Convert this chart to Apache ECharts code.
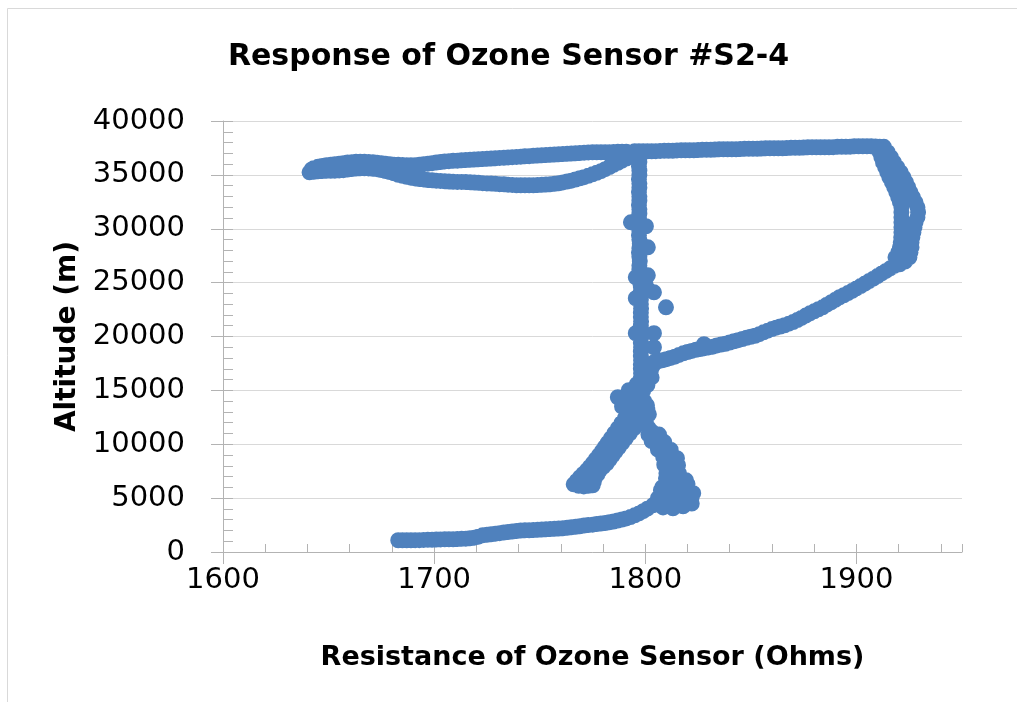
<!DOCTYPE html>
<html>
<head>
<meta charset="utf-8">
<script src="https://cdn.jsdelivr.net/npm/echarts/dist/echarts.min.js"></script>
<style>
  html, body { margin: 0; padding: 0; background: #ffffff; }
  #chart { width: 1017px; height: 702px; }
</style>
</head>
<body>
<div id="chart"></div>
<script>
// ---- Text ----
const titleText = 'Response of Ozone Sensor #S2-4';
const xAxisTitle = 'Resistance of Ozone Sensor (Ohms)';
const yAxisTitle = 'Altitude (m)';

// ---- Axis ranges / ticks ----
const xRange = [1600, 1950];
const xMajorStep = 100;
const xMinorStep = 20;
const yRange = [0, 40000];
const yMajorStep = 5000;
const yMinorStep = 1000;

// ---- Data: [resistance (Ohms), altitude (m)] ----
const groundAscent = [
  [1683,1090],[1685,1090],[1687,1090],[1689,1090],[1691,1095],[1693,1100],[1695,1120],[1697,1130],
  [1699,1130],[1701,1150],[1703,1170],[1705,1180],[1707,1180],[1709,1180],[1711,1200],[1713,1220],
  [1715,1240],[1717,1270],[1719,1330],[1721,1420],[1723,1550],[1725,1600],[1727,1640],[1729,1700],
  [1731,1750],[1733,1800],[1735,1850],[1737,1900],[1739,1940],[1741,1990],[1743,2010],[1745,2010],
  [1747,2040],[1749,2060],[1751,2080],[1753,2110],[1755,2130],[1757,2150],[1759,2180],[1761,2200],
  [1763,2250],[1765,2290],[1767,2340],[1769,2390],[1771,2450],[1773,2500],[1775,2540],[1777,2590],
  [1779,2640],[1781,2690],[1783,2750],[1785,2830],[1787,2920],[1789,3010],[1791,3120],[1793,3250],
  [1795,3400],[1797,3580],[1799,3790],[1801,4020]
];
const lowBlob = [
  [1803.6,4330],[1808.4,4140],[1813.1,4050],[1817.9,4240],[1820.8,4800],[1822.7,5450],
  [1819.0,5360],[1814.0,5080],[1808.8,4890],[1807.4,5730],[1812.0,6000],[1816.9,6100],
  [1819.3,6650],[1815.0,6930],[1809.8,6840],[1812.6,7580],[1815.5,8050],[1811.0,8330],
  [1813.0,8970],[1810.0,9530],[1807.4,10180],[1804.6,10830],[1801.7,11480],
  [1822.0,5100],[1818.0,5800],[1810.0,6300],[1806.0,5000],[1820.0,6300],[1811.0,4500],
  [1816.0,4600],[1813.5,7200],[1812.0,9250],[1808.7,9850],[1806.0,10500],[1803.2,11150],
  [1818.0,4700],[1822.0,4500],[1814.0,5600],[1808.0,6000],
  [1816.0,7300],[1815.0,8000],[1815.0,8700],[1812.0,9500],[1809.0,10200],[1806.5,10900],
  [1810.0,7300],[1809.0,8100],[1808.5,8800],[1806.0,9500],[1803.0,10300],[1801.5,10900]
];
const midAscent = [
  [1800.3,12040],[1801.7,12780],[1800.8,13610],[1797.9,14360],[1794.1,14080],[1790.3,13800],
  [1787.0,14360],[1792.2,15010],[1796.0,15580],[1799.8,16120],[1802.7,16860],[1804.1,17600],
  [1801.0,13200],[1799.5,14000],[1792.0,14600],[1797.8,15850],[1801.2,16500],[1803.5,17250],
  [1792.0,13000],[1796.0,12700],[1789.0,13500],[1795.0,13900],[1799.0,15000],[1801.0,15500],
  [1803.0,16200]
];
const diagonalAscent = [
  [1806,17700],[1808,17790],[1810,17900],[1812,18010],[1814,18130],[1816,18290],[1818,18440],
  [1820,18550],[1822,18660],[1824,18760],[1826,18840],[1828,18920],[1830,18990],[1832,19060],
  [1834,19170],[1836,19250],[1838,19330],[1840,19440],[1842,19550],[1844,19660],[1846,19770],
  [1848,19880],[1850,19970],[1852,20060],[1854,20220],[1856,20390],[1858,20540],[1860,20690],
  [1862,20820],[1864,20930],[1866,21040],[1868,21190],[1870,21340],[1872,21520],[1874,21720],
  [1876,21940],[1878,22150],[1880,22340],[1882,22530],[1884,22710],[1886,22950],[1888,23170],
  [1890,23400],[1892,23640],[1894,23830],[1896,24030],[1898,24240],[1900,24460],[1902,24680],
  [1904,24910],[1906,25140],[1908,25370],[1910,25610],[1912,25850],[1914,26090],[1916,26330],
  [1918,26550],[1920.5,26700],[1923,26950],[1827.8,19280]
];
const rightInner = [
  [1918.5,27350],[1919.8,27810],[1920.6,28280],[1921.0,28740],[1921.2,29200],[1921.3,29670],
  [1921.3,30130],[1921.3,30600],[1921.3,31060],[1921.3,31530],[1921.3,31990],[1920.6,32450],
  [1919.8,32920],[1918.9,33380],[1917.9,33850],[1916.8,34310],[1915.6,34770],[1914.6,35240],
  [1913.6,35700],[1912.6,36160],[1911.8,36630],[1911.0,37100]
];
const rightOuter = [
  [1925.1,27350],[1925.6,27810],[1926.1,28280],[1926.1,28740],[1926.5,29200],[1927.0,29670],
  [1927.5,30130],[1928.0,30600],[1928.9,31060],[1929.2,31530],[1928.9,31990],[1928.0,32450],
  [1926.8,32920],[1925.6,33380],[1924.5,33850],[1923.5,34310],[1922.3,34770],[1921.0,35240],
  [1919.4,35700],[1917.8,36160],[1916.4,36630],[1914.8,37100]
];
const burstTop = [
  [1913,37600],[1911,37620],[1909,37640],[1907,37650],[1905,37650],[1903,37650],[1901,37650],
  [1899,37650],[1897,37620],[1895,37600],[1893,37600],[1891,37600],[1889,37570],[1887,37560],
  [1885,37560],[1883,37560],[1881,37560],[1879,37560],[1877,37560],[1875,37540],[1873,37510],
  [1871,37510],[1869,37510],[1867,37490],[1865,37470],[1863,37470],[1861,37470],[1859,37470],
  [1857,37460],[1855,37440],[1853,37420],[1851,37420],[1849,37420],[1847,37420],[1845,37400],
  [1843,37380],[1841,37370],[1839,37370],[1837,37370],[1835,37370],[1833,37350],[1831,37330],
  [1829,37330],[1827,37330],[1825,37300],[1823,37280],[1821,37280],[1819,37280],[1817,37280],
  [1815,37270],[1813,37240],[1811,37230],[1809,37230],[1807,37220],[1805,37200],[1803,37190],
  [1801,37190],[1799,37190],[1797,37190],[1795,37190]
];
const loopUpper = [
  [1791,37140],[1789,37140],[1787,37140],[1785,37130],[1783,37110],[1781,37090],[1779,37090],
  [1777,37090],[1775,37090],[1773,37080],[1771,37060],[1769,37030],[1767,37000],[1765,36980],
  [1763,36960],[1761,36940],[1759,36910],[1757,36880],[1755,36860],[1753,36840],[1751,36820],
  [1749,36790],[1747,36770],[1745,36740],[1743,36720],[1741,36690],[1739,36670],[1737,36640],
  [1735,36620],[1733,36590],[1731,36570],[1729,36540],[1727,36520],[1725,36490],[1723,36470],
  [1721,36440],[1719,36420],[1717,36400],[1715,36370],[1713,36350],[1711,36320],[1709,36300],
  [1707,36270],[1705,36250],[1703,36190],[1701,36140],[1699,36090],[1697,36040],[1695,35990],
  [1693,35950],[1691,35900],[1689,35890],[1687,35890],[1685,35910],[1683,35930],[1681,35950],
  [1679,35980],[1677,36030],[1675,36080],[1673,36130],[1671,36170],[1669,36200],[1667,36210],
  [1665,36210],[1663,36210],[1661,36180],[1659,36140],[1657,36090],[1655,36040],[1653,35990],
  [1651,35940],[1649,35890],[1647,35830],[1645,35750],[1643,35620],[1642,35500]
];
const loopLower = [
  [1641,35240],[1643,35280],[1645,35330],[1647,35360],[1649,35380],[1651,35380],[1653,35390],
  [1655,35410],[1657,35440],[1659,35490],[1661,35540],[1663,35590],[1665,35610],[1667,35610],
  [1669,35600],[1671,35570],[1673,35530],[1675,35450],[1677,35360],[1679,35260],[1681,35140],
  [1683,35010],[1685,34910],[1687,34820],[1689,34740],[1691,34670],[1693,34620],[1695,34580],
  [1697,34520],[1699,34490],[1701,34460],[1703,34440],[1705,34410],[1707,34380],[1709,34360],
  [1711,34350],[1713,34350],[1715,34330],[1717,34310],[1719,34290],[1721,34260],[1723,34230],
  [1725,34210],[1727,34190],[1729,34170],[1731,34140],[1733,34120],[1735,34090],[1737,34070],
  [1739,34040],[1741,34030],[1743,34030],[1745,34030],[1747,34030],[1749,34050],[1751,34080],
  [1753,34100],[1755,34120],[1757,34170],[1759,34220],[1761,34300],[1763,34380],[1765,34460],
  [1767,34570],[1769,34680],[1771,34790],[1773,34920],[1775,35050],[1777,35200],[1779,35340],
  [1781,35530],[1783,35730],[1785,35930],[1787,36120],[1789,36320],[1791,36520],[1793,36730],
  [1795,36910]
];
const verticalDescent = [
  [1797.2,36600],[1797.2,36200],[1797.0,35800],[1797.2,35400],[1797.2,35000],[1797.0,34600],
  [1797.2,34200],[1797.2,33800],[1797.0,33400],[1797.2,33000],[1797.2,32600],[1797.0,32200],
  [1797.2,31800],[1797.2,31400],[1797.0,31000],[1797.2,30600],[1797.4,30200],[1797.2,29800],
  [1797.0,29400],[1797.2,29000],[1797.4,28600],[1797.2,28200],[1797.0,27800],[1797.2,27400],
  [1797.4,27000],[1797.2,26600],[1797.2,26200],[1797.4,25800],[1797.2,25400],[1797.6,25000],
  [1797.9,24600],[1797.9,24200],[1798.0,23800],[1797.9,23400],[1797.9,23000],[1798.0,22600],
  [1797.9,22200],[1797.9,21800],[1798.0,21400],[1797.9,21000],[1797.9,20600],[1798.0,20200],
  [1797.9,19800],[1797.9,19400],[1798.0,19000],[1797.9,18600],[1797.9,18200],[1798.0,17800],
  [1797.9,17400],[1797.9,17000],[1798.0,16600],[1797.9,16200],[1797.9,15800],[1798.0,15400],
  [1797.9,15000],[1797.9,14600]
];
const descentScatter = [
  [1793.2,30600],[1800.3,30230],[1801.2,28280],[1795.5,25490],[1801.2,25680],[1804.1,24100],
  [1795.5,23550],[1809.8,22710],[1795.5,20300],[1804.1,20300],[1804.1,19000],[1800.3,24750]
];
const lowDescent = [
  [1794.1,13340],[1792.2,12870],[1790.3,12410],[1788.7,11950],[1787.0,11480],[1785.3,11010],
  [1783.7,10550],[1782.2,10130],[1780.8,9720],[1779.4,9340],[1778.0,8970],[1776.5,8600],
  [1775.1,8230],[1773.7,7900],[1772.3,7580],[1770.6,7250],[1769.0,6930],[1767.5,6600],
  [1766.1,6280],
  [1797.9,12410],[1796.2,11950],[1794.6,11480],[1792.7,11010],[1790.8,10550],[1789.1,10130],
  [1787.5,9720],[1786.0,9340],[1784.6,8970],[1783.2,8600],[1781.8,8230],[1780.1,7900],
  [1778.5,7580],[1777.3,7200],[1776.1,6840],[1775.6,6500],[1775.1,6190],[1773.0,6140],
  [1770.9,6090],[1768.5,6150]
];

const allPoints = [].concat(groundAscent, lowBlob, midAscent, diagonalAscent, rightInner,
  rightOuter, burstTop, loopUpper, loopLower, verticalDescent, descentScatter, lowDescent);

const markColor = '#4f81bd';
const axisColor = '#b3b3b3';
const gridColor = '#d9d9d9';
const fontFamily = '"DejaVu Sans", sans-serif';

const chart = echarts.init(document.getElementById('chart'), null, { renderer: 'canvas' });
chart.setOption({
  animation: false,
  backgroundColor: '#ffffff',
  title: {
    text: titleText,
    left: 'center',
    top: 37,
    textStyle: { fontFamily: fontFamily, fontSize: 30, fontWeight: 'bold', color: '#000000' }
  },
  graphic: [{
    type: 'rect',
    silent: true,
    shape: { x: 7.5, y: 8.5, width: 1200, height: 1000 },
    style: { fill: 'none', stroke: '#d9d9d9', lineWidth: 1 }
  }],
  grid: { left: 223, right: 55, top: 121, bottom: 150, containLabel: false },
  xAxis: [{
    type: 'value',
    min: xRange[0], max: xRange[1], interval: xMajorStep,
    position: 'bottom',
    name: xAxisTitle,
    nameLocation: 'middle',
    nameGap: 92,
    nameTextStyle: { fontFamily: fontFamily, fontSize: 27, fontWeight: 'bold', color: '#000000' },
    axisLine: { show: true, lineStyle: { color: axisColor, width: 1 } },
    axisTick: { show: true, inside: false, length: 12, lineStyle: { color: axisColor } },
    axisLabel: {
      fontFamily: fontFamily, fontSize: 29, color: '#000000', margin: 14,
      showMaxLabel: false,
      formatter: function (v) { return String(v); }
    },
    splitLine: { show: false }
  }, {
    type: 'value',
    min: xRange[0], max: xRange[1], interval: xMinorStep,
    position: 'bottom',
    axisLine: { show: false },
    axisTick: { show: true, inside: true, length: 8, lineStyle: { color: axisColor } },
    axisLabel: { show: false },
    splitLine: { show: false }
  }],
  yAxis: [{
    type: 'value',
    min: yRange[0], max: yRange[1], interval: yMajorStep,
    position: 'left',
    name: yAxisTitle,
    nameLocation: 'middle',
    nameGap: 135,
    nameRotate: 90,
    nameTextStyle: { fontFamily: fontFamily, fontSize: 28, fontWeight: 'bold', color: '#000000' },
    axisLine: { show: true, lineStyle: { color: axisColor, width: 1 } },
    axisTick: { show: true, inside: false, length: 12, lineStyle: { color: axisColor } },
    axisLabel: {
      fontFamily: fontFamily, fontSize: 29, color: '#000000', margin: 38,
      formatter: function (v) { return String(v); }
    },
    splitLine: { show: true, lineStyle: { color: gridColor, width: 1 } }
  }, {
    type: 'value',
    min: yRange[0], max: yRange[1], interval: yMinorStep,
    position: 'left',
    axisLine: { show: false },
    axisTick: { show: true, inside: true, length: 10, lineStyle: { color: axisColor } },
    axisLabel: { show: false },
    splitLine: { show: false }
  }],
  series: [{
    type: 'scatter',
    xAxisIndex: 0,
    yAxisIndex: 0,
    data: allPoints,
    symbol: 'circle',
    symbolSize: 16,
    itemStyle: { color: markColor, opacity: 1, borderWidth: 0 },
    emphasis: { disabled: true },
    large: true,
    largeThreshold: 1,
    progressive: 0
  }]
});
</script>
</body>
</html>
